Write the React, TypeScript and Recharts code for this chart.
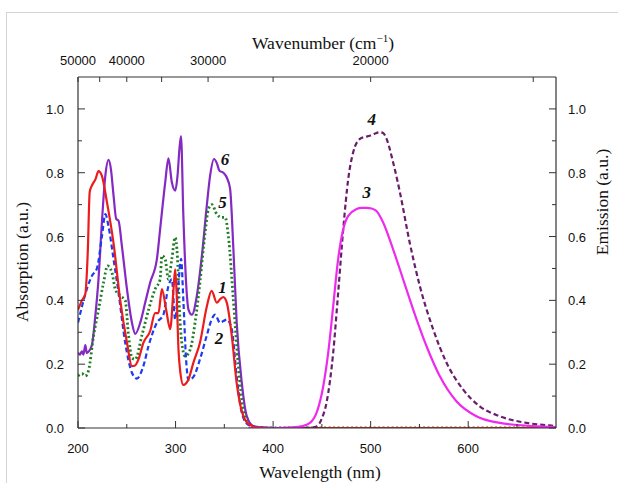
import React from "react";
import { LineChart, Line, XAxis, YAxis, ReferenceDot } from "recharts";

// absorption 1 (red, solid)
const wl1 = [200, 204, 207.5, 210, 212, 214.3, 218, 221, 224.5, 229.7, 236.4, 243.3, 250.2, 255.3, 258, 262, 267, 274, 279, 282.5, 286, 290.4, 294.5, 297.9, 299.6, 301, 303, 304.7, 308, 313.2, 318.3, 325, 332, 337, 342.3, 346, 349, 352.5, 357.6, 362.7, 369.5, 376, 385, 400, 500, 600, 690];
const abs1 = [0.37, 0.4, 0.42, 0.55, 0.74, 0.76, 0.78, 0.805, 0.79, 0.707, 0.58, 0.4, 0.267, 0.194, 0.195, 0.215, 0.267, 0.304, 0.36, 0.36, 0.435, 0.37, 0.31, 0.435, 0.497, 0.43, 0.246, 0.18, 0.135, 0.152, 0.205, 0.267, 0.38, 0.43, 0.393, 0.405, 0.41, 0.393, 0.29, 0.14, 0.037, 0.01, 0.002, 0, 0, 0, 0];

// absorption 2 (blue, dashed)
const wl2 = [200, 204, 209, 214.3, 219.4, 224.5, 228, 231.4, 236.4, 241.5, 248.4, 255.3, 260.4, 267, 272.3, 280.9, 287.6, 292.7, 296.2, 299.6, 303, 305.7, 308, 310.8, 313.2, 318.3, 325, 332, 337, 340.5, 345.6, 349, 352.5, 357.6, 362.7, 367.9, 374.5, 385, 400, 500, 600, 690];
const abs2 = [0.33, 0.38, 0.435, 0.477, 0.5, 0.6, 0.67, 0.63, 0.53, 0.425, 0.267, 0.173, 0.155, 0.194, 0.257, 0.33, 0.356, 0.445, 0.466, 0.34, 0.456, 0.53, 0.4, 0.215, 0.15, 0.16, 0.215, 0.29, 0.34, 0.355, 0.33, 0.335, 0.34, 0.31, 0.16, 0.048, 0.01, 0.002, 0, 0, 0, 0];

// absorption 5 (green, dotted)
const wl5 = [200, 204, 207.5, 210.8, 216, 221, 226.2, 230.3, 234.8, 238.2, 243.3, 248.4, 251.8, 255.3, 258.7, 265.5, 272.3, 279, 284.2, 286, 289.3, 292.7, 296.2, 299.6, 302, 304, 306.4, 309.8, 315, 320, 325, 330.3, 333.7, 337.2, 342.3, 347.4, 350.8, 354.2, 359.3, 364.4, 369.5, 376, 385, 400, 500, 600, 690];
const abs5 = [0.163, 0.17, 0.163, 0.18, 0.29, 0.37, 0.456, 0.508, 0.487, 0.435, 0.414, 0.4, 0.29, 0.22, 0.215, 0.29, 0.37, 0.435, 0.466, 0.54, 0.53, 0.466, 0.53, 0.597, 0.53, 0.37, 0.267, 0.225, 0.246, 0.33, 0.456, 0.613, 0.686, 0.7, 0.67, 0.66, 0.66, 0.6, 0.4, 0.194, 0.058, 0.01, 0.002, 0, 0, 0, 0];

// absorption 6 (violet, solid)
const wl6 = [200, 202, 204, 205.5, 207.5, 209, 211, 214.3, 217.7, 221, 224.5, 228, 231.4, 233.8, 236.4, 239.2, 241.5, 245, 250.2, 255.3, 258.7, 263.8, 268.9, 274, 280.9, 284.2, 289.4, 292.7, 296.2, 299.6, 302, 304, 305.6, 308, 310.8, 313.2, 316.7, 321.8, 327, 332, 335.4, 339.5, 342.3, 345, 349, 352.5, 355.9, 359.3, 362.7, 367.9, 373, 380, 390, 400, 500, 600, 690];
const abs6 = [0.236, 0.23, 0.24, 0.23, 0.26, 0.235, 0.24, 0.26, 0.35, 0.466, 0.644, 0.79, 0.84, 0.81, 0.73, 0.655, 0.65, 0.57, 0.435, 0.33, 0.295, 0.33, 0.393, 0.456, 0.53, 0.623, 0.77, 0.845, 0.77, 0.744, 0.79, 0.875, 0.915, 0.665, 0.456, 0.372, 0.355, 0.414, 0.54, 0.696, 0.79, 0.843, 0.83, 0.806, 0.8, 0.785, 0.75, 0.56, 0.33, 0.142, 0.037, 0.005, 0.001, 0, 0, 0, 0];

// emission 3 (magenta, solid)
const wl3 = [375, 400, 420, 430, 437.8, 444.6, 451.4, 456.5, 461.6, 466.7, 471.9, 477, 485.6, 490, 495.8, 501, 506, 512.8, 523, 533.3, 543.5, 557.2, 570.8, 587.9, 608.4, 632.2, 666.3, 690];
const em3 = [0, 0, 0.002, 0.006, 0.016, 0.048, 0.131, 0.236, 0.382, 0.53, 0.623, 0.665, 0.686, 0.69, 0.69, 0.688, 0.68, 0.644, 0.56, 0.466, 0.372, 0.257, 0.163, 0.084, 0.037, 0.016, 0.006, 0.003];

// emission 4 (dark purple, dashed)
const wl4 = [375, 400, 430, 440, 444.6, 450, 454.8, 461.6, 466.7, 471.9, 477, 482.1, 489, 494, 499.2, 504, 509.4, 513, 516.3, 523, 529.9, 540.1, 550.4, 564, 577.7, 594.7, 611.8, 632.2, 659.6, 683.4, 690];
const em4 = [0, 0, 0, 0.002, 0.005, 0.03, 0.08, 0.236, 0.424, 0.623, 0.78, 0.864, 0.906, 0.912, 0.916, 0.922, 0.927, 0.924, 0.906, 0.833, 0.74, 0.58, 0.445, 0.31, 0.205, 0.121, 0.068, 0.037, 0.016, 0.008, 0.006];

const wlTicks = [200, 250, 300, 350, 400, 450, 500, 550, 600, 650];
const yTicks = [0, 0.1, 0.2, 0.3, 0.4, 0.5, 0.6, 0.7, 0.8, 0.9, 1.0];
const wnTicks = [50000, 45000, 40000, 35000, 30000, 25000, 20000, 15000];
const wnLabels = [50000, 40000, 30000, 20000];

// curve numbers: [text, wavelength, value, axis]
const curveTags: [string, number, number, string][] = [
  ["1", 348, 0.441, "left"],
  ["2", 344.6, 0.281, "left"],
  ["5", 348, 0.708, "left"],
  ["6", 350.8, 0.843, "left"],
  ["3", 496, 0.739, "right"],
  ["4", 501, 0.969, "right"],
];

const pts = (xs: number[], ys: number[]) => xs.map((x, i) => ({ x, y: ys[i] }));

const AXIS = "#333";
const SANS = "'Liberation Sans', Arial, sans-serif";
const SERIF = "'Liberation Serif', 'Times New Roman', serif";
const lbl = { fontFamily: SANS, fontSize: 13, fill: "#111" };

const BottomTick = (p: any) => {
  const major = p.payload.value % 100 === 0;
  return (
    <g>
      <line x1={p.x} y1={p.y} x2={p.x} y2={p.y - (major ? 7 : 4)} stroke={AXIS} />
      {major && <text x={p.x} y={p.y + 25} textAnchor="middle" {...lbl}>{p.payload.value}</text>}
    </g>
  );
};

const TopTick = (p: any) => {
  const wn = Math.round(1e7 / p.payload.value);
  return (
    <g>
      <line x1={p.x} y1={p.y} x2={p.x} y2={p.y + 5} stroke={AXIS} />
      {wnLabels.includes(wn) && <text x={p.x} y={p.y - 12} textAnchor="middle" {...lbl}>{wn}</text>}
    </g>
  );
};

const SideTick = (side: "left" | "right") => (p: any) => {
  const major = Math.round(p.payload.value * 10) % 2 === 0;
  const dir = side === "left" ? 1 : -1;
  return (
    <g>
      <line x1={p.x} y1={p.y} x2={p.x + dir * (major ? 7 : 4)} y2={p.y} stroke={AXIS} />
      {major && (
        <text x={p.x - dir * (side === "left" ? 14 : 12)} y={p.y + 5} textAnchor={side === "left" ? "end" : "start"} {...lbl}>
          {p.payload.value.toFixed(1)}
        </text>
      )}
    </g>
  );
};

const title: React.CSSProperties = {
  position: "absolute",
  fontFamily: SERIF,
  fontSize: 17.5,
  color: "#111",
  whiteSpace: "nowrap",
  transform: "translate(-50%, -50%)",
};

export default function App() {
  return (
    <div style={{ position: "absolute", left: 0, top: 0, width: 618, height: 483, background: "#fff", overflow: "hidden" }}>
      <div style={{ position: "absolute", left: 6, top: 12, right: 0, bottom: 0, borderLeft: "1px solid #d4d4d4", borderTop: "1px solid #d4d4d4" }} />
      <LineChart width={618} height={483} margin={{ top: 17, right: 2, bottom: 5, left: 18 }} style={{ position: "absolute", left: 0, top: 0 }}>
        <XAxis xAxisId="bottom" dataKey="x" type="number" domain={[200, 690]} allowDataOverflow ticks={wlTicks} interval={0}
          height={50} tickSize={0} tickMargin={0} tickLine={false} tick={BottomTick} axisLine={{ stroke: AXIS, strokeWidth: 1.2 }} />
        <XAxis xAxisId="top" orientation="top" dataKey="x" type="number" domain={[200, 690]} allowDataOverflow ticks={wnTicks.map((w) => 1e7 / w)} interval={0}
          height={60} tickSize={0} tickMargin={0} tickLine={false} tick={TopTick} axisLine={{ stroke: AXIS, strokeWidth: 1.2 }} />
        <YAxis yAxisId="left" type="number" domain={[0, 1.1]} allowDataOverflow ticks={yTicks} interval={0}
          width={60} tickSize={0} tickMargin={0} tickLine={false} tick={SideTick("left")} axisLine={{ stroke: AXIS, strokeWidth: 1.2 }} />
        <YAxis yAxisId="right" orientation="right" type="number" domain={[0, 1.1]} allowDataOverflow ticks={yTicks} interval={0}
          width={60} tickSize={0} tickMargin={0} tickLine={false} tick={SideTick("right")} axisLine={{ stroke: AXIS, strokeWidth: 1.2 }} />

        <Line xAxisId="bottom" yAxisId="left" data={pts(wl6, abs6)} dataKey="y" type="monotone" stroke="#8429c2" strokeWidth={2.2} dot={false} isAnimationActive={false} />
        <Line xAxisId="bottom" yAxisId="left" data={pts(wl5, abs5)} dataKey="y" type="monotone" stroke="#1f7d24" strokeWidth={2.8} strokeDasharray="2 2.5" dot={false} isAnimationActive={false} />
        <Line xAxisId="bottom" yAxisId="left" data={pts(wl2, abs2)} dataKey="y" type="monotone" stroke="#1c3cf0" strokeWidth={2.2} strokeDasharray="5 3" dot={false} isAnimationActive={false} />
        <Line xAxisId="bottom" yAxisId="left" data={pts(wl1, abs1)} dataKey="y" type="monotone" stroke="#ec1c1c" strokeWidth={2.2} dot={false} isAnimationActive={false} />
        <Line xAxisId="bottom" yAxisId="right" data={pts(wl4, em4)} dataKey="y" type="monotone" stroke="#6a1d6c" strokeWidth={2.2} strokeDasharray="5 3" dot={false} isAnimationActive={false} />
        <Line xAxisId="bottom" yAxisId="right" data={pts(wl3, em3)} dataKey="y" type="monotone" stroke="#ee2aee" strokeWidth={2.2} dot={false} isAnimationActive={false} />

        {curveTags.map(([t, x, y, axis]) => (
          <ReferenceDot key={t} xAxisId="bottom" yAxisId={axis} x={x} y={y} r={0} fill="none" stroke="none"
            label={{ value: t, position: "center", fill: "#111", fontSize: 17, fontStyle: "italic", fontWeight: "bold", fontFamily: SERIF }} />
        ))}
      </LineChart>
      <div style={{ ...title, left: 323, top: 43 }}>
        Wavenumber (cm<sup style={{ fontSize: 11 }}>−1</sup>)
      </div>
      <div style={{ ...title, left: 320, top: 472 }}>Wavelength (nm)</div>
      <div style={{ ...title, left: 22, top: 262, transform: "translate(-50%, -50%) rotate(-90deg)" }}>Absorption (a.u.)</div>
      <div style={{ ...title, left: 602, top: 202, transform: "translate(-50%, -50%) rotate(-90deg)" }}>Emission (a.u.)</div>
    </div>
  );
}
